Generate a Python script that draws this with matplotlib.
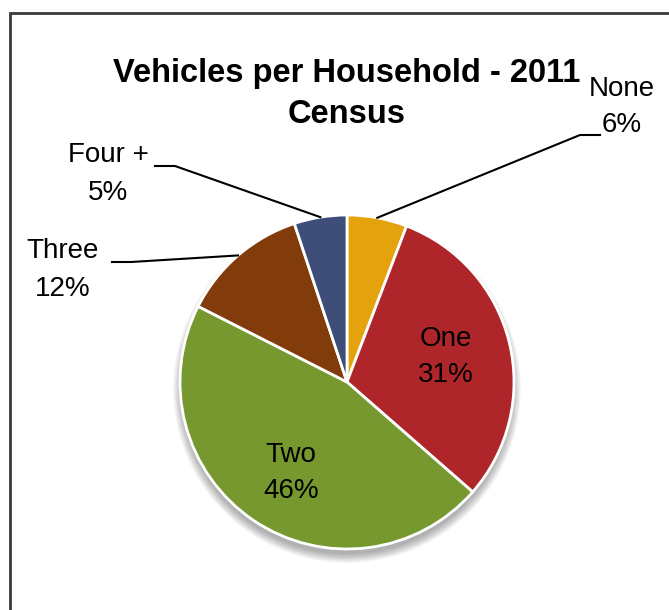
import numpy as np
import matplotlib
matplotlib.use("Agg")
import matplotlib.pyplot as plt
from matplotlib.patches import Rectangle, Circle

# data
categories = ["None", "One", "Two", "Three", "Four +"]
shares = [5.8, 30.6, 46.0, 12.4, 5.1]
labels_pct = ["6%", "31%", "46%", "12%", "5%"]
colors = ["#E4A20C", "#AE2629", "#76982F", "#823B0B", "#3E4E78"]
title = "Vehicles per Household - 2011\nCensus"

plt.rcParams['font.family'] = ['Liberation Sans', 'DejaVu Sans']

W, H = 669, 610
fig = plt.figure(figsize=(W/100, H/100), dpi=100)
ax = fig.add_axes([0, 0, 1, 1])

cx, cy, r = 347, H - 382, 167

# frame
ax.add_patch(Rectangle((10, -20), W + 20, H - 13 + 20, fill=False, ec="#3a3a3a", lw=2))

# soft shadow
for k in range(12):
    ax.add_patch(Circle((cx, cy - 7), r + 7 - k * 0.8, color="black", alpha=0.028, lw=0, zorder=1))

wedges, _ = ax.pie(shares, colors=colors, startangle=90, counterclock=False,
                   center=(cx, cy), radius=r, frame=True,
                   wedgeprops=dict(edgecolor="white", linewidth=2))
for w in wedges:
    w.set_zorder(2)
ax.set_xlim(0, W)
ax.set_ylim(0, H)
ax.set_aspect('equal')
ax.axis('off')

fs = 20
ls = 1.55
# inside labels
ax.text(446, H - 357, "One\n31%", ha="center", va="center", fontsize=fs, linespacing=ls, zorder=3)
ax.text(291, H - 473, "Two\n46%", ha="center", va="center", fontsize=fs, linespacing=ls, zorder=3)

# outside labels with leader lines
outside = {0: ((600, 135), (580, 135), (622, 107)),
           4: ((155, 166), (175, 166), (108, 174)),
           3: ((112, 262), (131, 262), (63, 270))}
for i, (end, knee, tpos) in outside.items():
    w = wedges[i]
    mid = np.deg2rad((w.theta1 + w.theta2) / 2)
    px, py = cx + r * np.cos(mid), cy + r * np.sin(mid)
    ax.plot([px, knee[0], end[0]], [py, H - knee[1], H - end[1]], color="black", lw=1.5, zorder=3)
    ax.text(tpos[0], H - tpos[1], categories[i] + "\n" + labels_pct[i], ha="center", va="center",
            fontsize=fs, linespacing=ls, zorder=3)

ax.text(347, H - 94, title, ha="center", va="center", fontsize=23.5, fontweight="bold",
        linespacing=1.45)

fig.savefig("out.png", dpi=100)
